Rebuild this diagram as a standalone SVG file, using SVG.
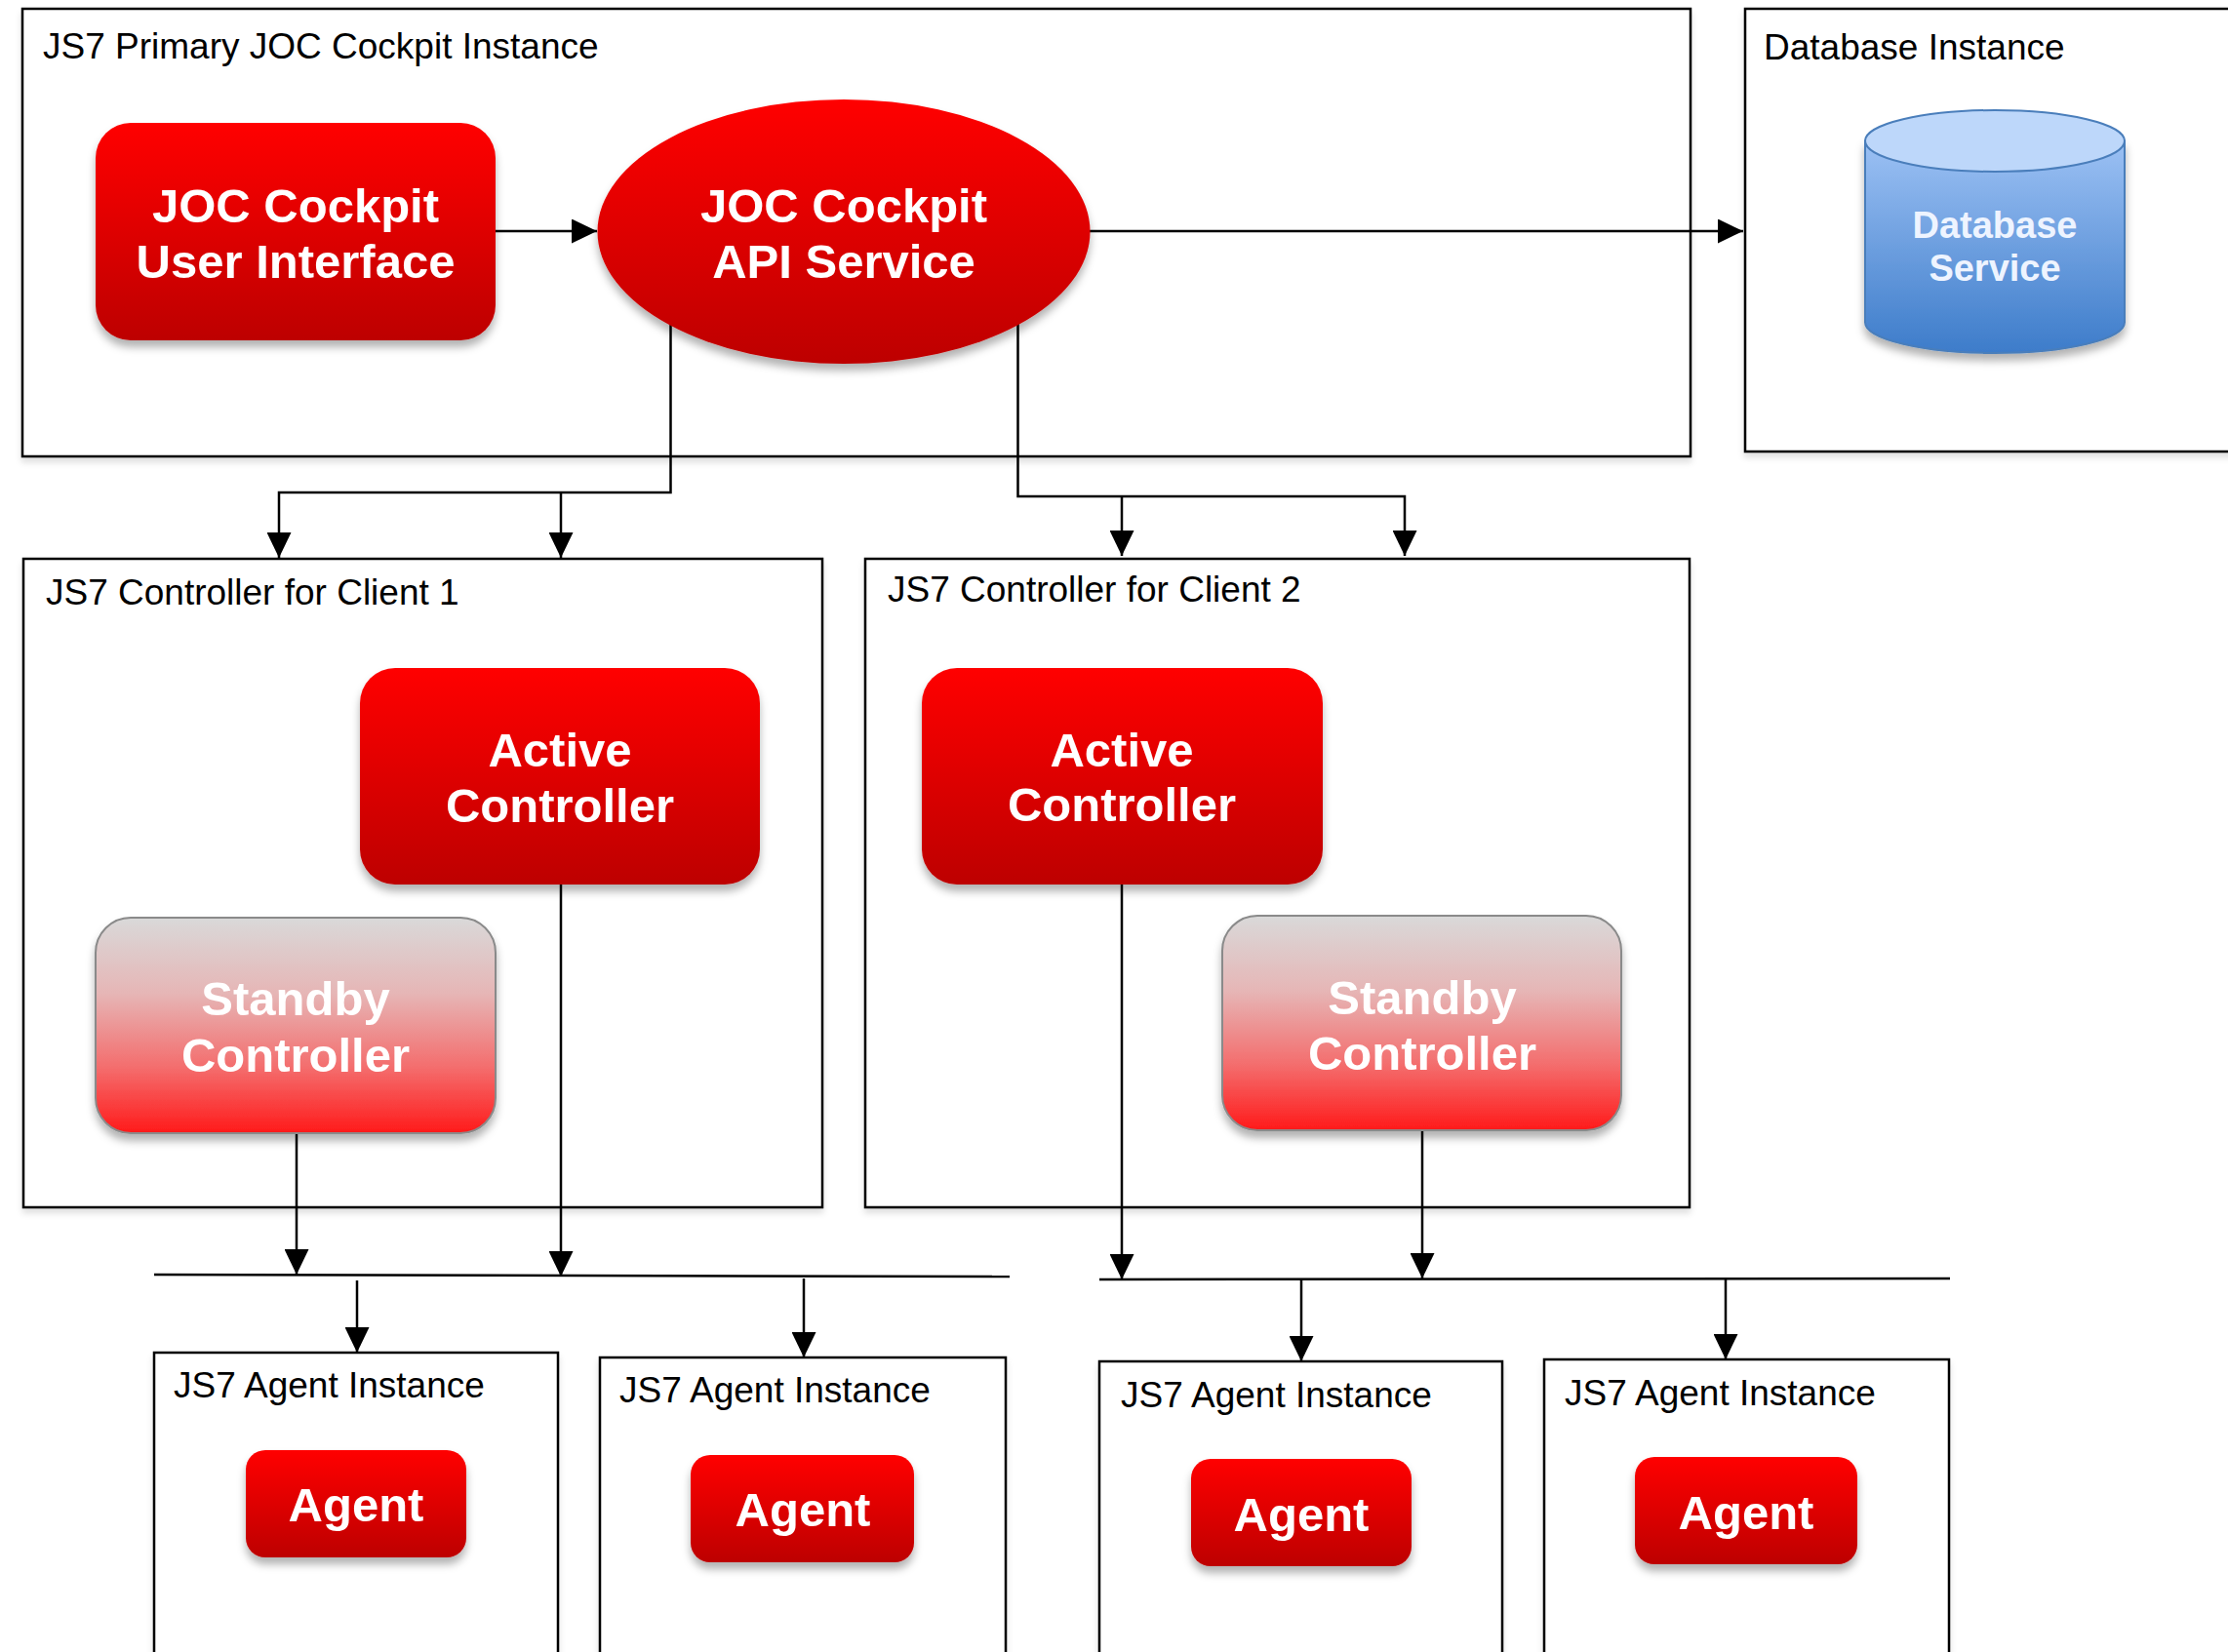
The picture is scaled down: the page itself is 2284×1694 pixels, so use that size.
<svg xmlns="http://www.w3.org/2000/svg" width="2284" height="1694" viewBox="0 0 2284 1694">
<defs>
<linearGradient id="red" x1="0" y1="0" x2="0" y2="1">
<stop offset="0" stop-color="#ff0000"/>
<stop offset="1" stop-color="#bd0000"/>
</linearGradient>
<linearGradient id="standby" x1="0" y1="0" x2="0" y2="1">
<stop offset="0" stop-color="#d9d9d9"/>
<stop offset="0.35" stop-color="#e6b6b6"/>
<stop offset="0.7" stop-color="#f46c6c"/>
<stop offset="1" stop-color="#ff1a1a"/>
</linearGradient>
<linearGradient id="blue" x1="0" y1="0" x2="0" y2="1">
<stop offset="0" stop-color="#9cc1f4"/>
<stop offset="1" stop-color="#3d7cca"/>
</linearGradient>
<filter id="sh" x="-20%" y="-20%" width="140%" height="150%">
<feDropShadow dx="0" dy="7" stdDeviation="4" flood-color="#000" flood-opacity="0.3"/>
</filter>
<filter id="shc" x="-5%" y="-5%" width="110%" height="115%">
<feDropShadow dx="0" dy="5" stdDeviation="3" flood-color="#000" flood-opacity="0.12"/>
</filter>
<marker id="arr" markerUnits="userSpaceOnUse" viewBox="0 0 26 25" markerWidth="26" markerHeight="25" refX="26" refY="12.5" orient="auto">
<path d="M0,0 L26,12.5 L0,25 Z" fill="#000"/>
</marker>
</defs>
<style>
.box{fill:#fff;stroke:#000;stroke-width:2.5;filter:url(#shc)}
.lbl{font-family:"Liberation Sans",Arial,sans-serif;font-size:37px;fill:#000}
.node{fill:url(#red);filter:url(#sh)}
.sb{fill:url(#standby);stroke:#8a8a8a;stroke-width:2;filter:url(#sh)}
.nt{font-family:"Liberation Sans",Arial,sans-serif;font-weight:bold;font-size:49px;fill:#fff;text-anchor:middle}
.dbt{font-family:"Liberation Sans",Arial,sans-serif;font-weight:bold;font-size:38px;fill:#eef4ff;text-anchor:middle}
.c{fill:none;stroke:#000;stroke-width:2.5}
</style>
<rect width="2284" height="1694" fill="#fff"/>

<g id="primary-instance">
<rect class="box" x="23" y="9" width="1710" height="459"/>
<text class="lbl" x="44" y="60">JS7 Primary JOC Cockpit Instance</text>
</g>
<g id="database-instance">
<rect class="box" x="1789" y="9" width="600" height="454"/>
<text class="lbl" x="1808" y="61">Database Instance</text>
</g>
<g id="controller-client-1">
<rect class="box" x="24" y="573" width="819" height="665"/>
<text class="lbl" x="47" y="620">JS7 Controller for Client 1</text>
</g>
<g id="controller-client-2">
<rect class="box" x="887" y="573" width="845" height="665"/>
<text class="lbl" x="910" y="617">JS7 Controller for Client 2</text>
</g>
<g id="agent-instance-1">
<rect class="box" x="158" y="1387" width="414" height="400"/>
<text class="lbl" x="178" y="1433">JS7 Agent Instance</text>
</g>
<g id="agent-instance-2">
<rect class="box" x="615" y="1392" width="416" height="400"/>
<text class="lbl" x="635" y="1438">JS7 Agent Instance</text>
</g>
<g id="agent-instance-3">
<rect class="box" x="1127" y="1396" width="413" height="400"/>
<text class="lbl" x="1149" y="1443">JS7 Agent Instance</text>
</g>
<g id="agent-instance-4">
<rect class="box" x="1583" y="1394" width="415" height="400"/>
<text class="lbl" x="1604" y="1441">JS7 Agent Instance</text>
</g>

<g id="connectors">
<path class="c" d="M508,237 H612" marker-end="url(#arr)"/>
<path class="c" d="M1110,237 H1787" marker-end="url(#arr)"/>
<path class="c" d="M687.5,328 V505 H286 V572" marker-end="url(#arr)"/>
<path class="c" d="M575,505 V572" marker-end="url(#arr)"/>
<path class="c" d="M1043.5,328 V509 H1440 V570" marker-end="url(#arr)"/>
<path class="c" d="M1150,509 V570" marker-end="url(#arr)"/>
<path class="c" d="M304,1162 V1307" marker-end="url(#arr)"/>
<path class="c" d="M575,907 V1309" marker-end="url(#arr)"/>
<path class="c" d="M158,1307 L1035,1309"/>
<path class="c" d="M366,1313 V1387" marker-end="url(#arr)"/>
<path class="c" d="M824,1311 V1392" marker-end="url(#arr)"/>
<path class="c" d="M1150,907 V1312" marker-end="url(#arr)"/>
<path class="c" d="M1458,1159 V1311" marker-end="url(#arr)"/>
<path class="c" d="M1127,1312 L1999,1311"/>
<path class="c" d="M1334,1312 V1396" marker-end="url(#arr)"/>
<path class="c" d="M1769,1311 V1394" marker-end="url(#arr)"/>
</g>

<g id="joc-ui">
<rect class="node" x="98" y="126" width="410" height="223" rx="36" ry="36"/>
<text class="nt" x="303" y="228">JOC Cockpit</text>
<text class="nt" x="303" y="285">User Interface</text>
</g>
<g id="joc-api">
<ellipse class="node" cx="865" cy="237.5" rx="252.5" ry="135.5"/>
<text class="nt" x="865" y="228">JOC Cockpit</text>
<text class="nt" x="865" y="285">API Service</text>
</g>
<g id="database-service">
<path d="M1912,144.5 V330.5 A133,31.5 0 0 0 2178,330.5 V144.5 Z" fill="url(#blue)" stroke="#4a7ebb" stroke-width="2" filter="url(#sh)"/>
<ellipse cx="2045" cy="144.5" rx="133" ry="31.5" fill="#bdd7fa" stroke="#4a7ebb" stroke-width="2"/>
<text class="dbt" x="2045" y="244">Database</text>
<text class="dbt" x="2045" y="288">Service</text>
</g>
<g id="active-controller-1">
<rect class="node" x="369" y="685" width="410" height="222" rx="36" ry="36"/>
<text class="nt" x="574" y="786">Active</text>
<text class="nt" x="574" y="843">Controller</text>
</g>
<g id="standby-controller-1">
<rect class="sb" x="98" y="941" width="410" height="221" rx="36" ry="36"/>
<text class="nt" x="303" y="1041">Standby</text>
<text class="nt" x="303" y="1099">Controller</text>
</g>
<g id="active-controller-2">
<rect class="node" x="945" y="685" width="411" height="222" rx="36" ry="36"/>
<text class="nt" x="1150" y="786">Active</text>
<text class="nt" x="1150" y="842">Controller</text>
</g>
<g id="standby-controller-2">
<rect class="sb" x="1253" y="939" width="409" height="220" rx="36" ry="36"/>
<text class="nt" x="1458" y="1040">Standby</text>
<text class="nt" x="1458" y="1097">Controller</text>
</g>
<g id="agent-1">
<rect class="node" x="252" y="1487" width="226" height="110" rx="20" ry="20"/>
<text class="nt" x="365" y="1560">Agent</text>
</g>
<g id="agent-2">
<rect class="node" x="708" y="1492" width="229" height="110" rx="20" ry="20"/>
<text class="nt" x="823" y="1565">Agent</text>
</g>
<g id="agent-3">
<rect class="node" x="1221" y="1496" width="226" height="110" rx="20" ry="20"/>
<text class="nt" x="1334" y="1570">Agent</text>
</g>
<g id="agent-4">
<rect class="node" x="1676" y="1494" width="228" height="110" rx="20" ry="20"/>
<text class="nt" x="1790" y="1568">Agent</text>
</g>
</svg>
